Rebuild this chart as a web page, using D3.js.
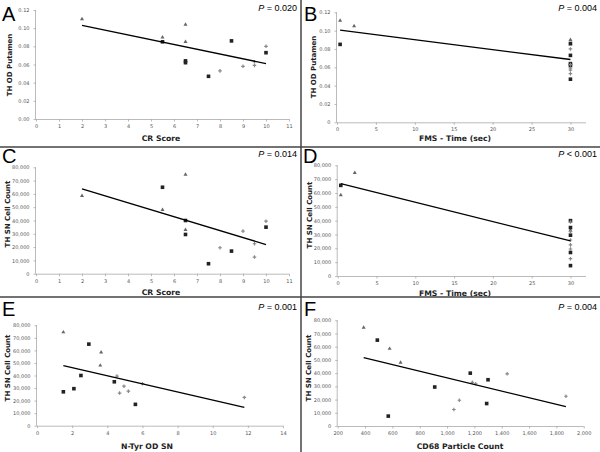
<!DOCTYPE html>
<html>
<head>
<meta charset="utf-8">
<script src="https://cdn.jsdelivr.net/npm/d3@7"></script>
<style>
  body { margin: 0; background: #fff; }
  svg { display: block; }
</style>
</head>
<body>
<svg width="600" height="452"></svg>
<script>
// marker groups: t = triangle, s = square, x = star
// Panel A: CR score vs TH OD putamen
const crA = [2, 5.5, 6.5, 6.5, 5.5, 6.5, 6.5, 7.5, 8.5, 10, 8, 9, 9.5, 9.5, 10];
const odA = [0.110, 0.090, 0.104, 0.085, 0.085, 0.064, 0.062, 0.047, 0.086, 0.073, 0.053, 0.058, 0.063, 0.059, 0.080];
const grpA = ["t", "t", "t", "t", "s", "s", "s", "s", "s", "s", "x", "x", "x", "x", "x"];
const trendA = [[2, 0.103], [10, 0.061]];

// Panel B: FMS time vs TH OD putamen
const fmsB = [0.4, 2.2, 0.4, 30, 30, 30, 30, 30, 30, 30, 30, 30, 30, 30, 30];
const odB = [0.111, 0.105, 0.085, 0.090, 0.085, 0.086, 0.073, 0.064, 0.062, 0.047, 0.080, 0.063, 0.059, 0.057, 0.053];
const grpB = ["t", "t", "s", "t", "t", "s", "s", "s", "s", "s", "x", "x", "x", "x", "x"];
const trendB = [[0.4, 0.1005], [30, 0.0685]];

// Panel C: CR score vs TH SN cell count
const crC = [2, 5.5, 6.5, 6.5, 5.5, 6.5, 6.5, 7.5, 8.5, 10, 8, 9, 9.5, 9.5, 10];
const cellC = [58500, 48000, 74500, 33000, 65000, 40000, 29500, 7500, 17000, 35000, 19500, 32000, 22500, 12500, 39500];
const grpC = ["t", "t", "t", "t", "s", "s", "s", "s", "s", "s", "x", "x", "x", "x", "x"];
const trendC = [[2, 63800], [10, 21900]];

// Panel D: FMS time vs TH SN cell count
const fmsD = [0.4, 2.2, 0.4, 30, 30, 30, 30, 30, 30, 30, 30, 30, 30, 30, 30];
const cellD = [58500, 74500, 65500, 33000, 40000, 35000, 29500, 17000, 7500, 39000, 32000, 26000, 22500, 19500, 12500];
const grpD = ["t", "t", "s", "t", "s", "s", "s", "s", "s", "x", "x", "x", "x", "x", "x"];
const trendD = [[0.4, 66800], [30, 25300]];

// Panel E: N-Tyr OD SN vs TH SN cell count
const ntyrE = [1.5, 3.65, 3.6, 1.5, 2.1, 2.5, 2.95, 4.4, 5.6, 4.55, 4.95, 4.7, 5.2, 6.0, 11.8];
const cellE = [74500, 58500, 48000, 27000, 29500, 40000, 65000, 35000, 17000, 39500, 31500, 26000, 27500, 33500, 22500];
const grpE = ["t", "t", "t", "s", "s", "s", "s", "s", "s", "x", "x", "x", "x", "x", "x"];
const trendE = [[1.5, 47800], [11.8, 14600]];

// Panel F: CD68 particle count vs TH SN cell count
const cd68F = [390, 580, 660, 490, 570, 910, 1170, 1290, 1300, 1185, 1210, 1440, 1090, 1050, 1870];
const cellF = [74500, 58500, 48000, 65000, 7500, 29500, 40000, 17000, 35000, 33000, 32000, 39500, 19500, 12500, 22500];
const grpF = ["t", "t", "t", "s", "s", "s", "s", "s", "s", "x", "x", "x", "x", "x", "x"];
const trendF = [[390, 51800], [1870, 14600]];

// axis ticks and labels
const crTicks = d3.range(0, 12);
const fmsTicks = [0, 5, 10, 15, 20, 25, 30];
const odTicks = [0, 0.02, 0.04, 0.06, 0.08, 0.10, 0.12];
const cellTicks = d3.range(0, 80001, 10000);
const ntyrTicks = d3.range(0, 15, 2);
const cd68Ticks = d3.range(200, 2001, 200);
const pValues = ["= 0.020", "= 0.004", "= 0.014", "< 0.001", "= 0.001", "= 0.004"];

const svg = d3.select("svg");

const panels = [
  { letter: "A", xs: crA, ys: odA, g: grpA, trend: trendA, xd: [0, 11], yd: [0, 0.12], xr: [36, 289], yr: [119, 10],
    xt: crTicks, yt: odTicks, yf: d3.format(".2f"), xTitle: "CR Score", yTitle: "TH OD Putamen",
    lx: 2, ly: 20.5, py: 11, txy: [161, 140.5], tyx: 12, tyy: 65 },
  { letter: "B", xs: fmsB, ys: odB, g: grpB, trend: trendB, xd: [0, 32], yd: [0, 0.12], xr: [337, 586], yr: [122.3, 12.3],
    xt: fmsTicks, yt: odTicks, yf: d => d === 0 ? "0" : d3.format(".2f")(d), xTitle: "FMS - Time (sec)", yTitle: "TH OD Putamen",
    lx: 304, ly: 20.5, py: 11, txy: [455, 140.5], tyx: 316, tyy: 67 },
  { letter: "C", xs: crC, ys: cellC, g: grpC, trend: trendC, xd: [0, 11], yd: [0, 80000], xr: [36, 289], yr: [273.7, 167.3],
    xt: crTicks, yt: cellTicks, yf: d3.format(","), xTitle: "CR Score", yTitle: "TH SN Cell Count",
    lx: 2, ly: 163, py: 157, txy: [161, 295], tyx: 9.5, tyy: 214 },
  { letter: "D", xs: fmsD, ys: cellD, g: grpD, trend: trendD, xd: [0, 32], yd: [0, 80000], xr: [337.7, 586], yr: [276, 165.3],
    xt: fmsTicks, yt: cellTicks, yf: d3.format(","), xTitle: "FMS - Time (sec)", yTitle: "TH SN Cell Count",
    lx: 303, ly: 163, py: 157, txy: [455, 295.5], tyx: 312, tyy: 215 },
  { letter: "E", xs: ntyrE, ys: cellE, g: grpE, trend: trendE, xd: [0, 14], yd: [0, 80000], xr: [37, 283], yr: [425.7, 325.3],
    xt: ntyrTicks, yt: cellTicks, yf: d3.format(","), xTitle: "N-Tyr OD SN", yTitle: "TH SN Cell Count",
    lx: 2, ly: 316, py: 310, txy: [147, 448.5], tyx: 9.5, tyy: 368 },
  { letter: "F", xs: cd68F, ys: cellF, g: grpF, trend: trendF, xd: [200, 2000], yd: [0, 80000], xr: [337.7, 583.7], yr: [426, 320.3],
    xt: cd68Ticks, yt: cellTicks, yf: d3.format(","), xTitle: "CD68 Particle Count", yTitle: "TH SN Cell Count",
    lx: 304, ly: 316, py: 310, txy: [460, 448.5], tyx: 311, tyy: 368 }
];

const symbolOf = {
  t: d3.symbol().type(d3.symbolTriangle).size(7),
  s: d3.symbol().type(d3.symbolSquare).size(13),
  x: d3.symbol().type(d3.symbolCross).size(7)
};
const fillOf = { t: "#666", s: "#222", x: "#888" };

panels.forEach((p, i) => {
  const x = d3.scaleLinear().domain(p.xd).range(p.xr);
  const y = d3.scaleLinear().domain(p.yd).range(p.yr);
  const g = svg.append("g");

  // axes
  const xAxis = g.append("g")
    .attr("transform", "translate(0," + p.yr[0] + ")")
    .call(d3.axisBottom(x).tickValues(p.xt).tickSize(2.5).tickPadding(3).tickFormat(d3.format(",")));
  const yAxis = g.append("g")
    .attr("transform", "translate(" + p.xr[0] + ",0)")
    .call(d3.axisLeft(y).tickValues(p.yt).tickSize(2.5).tickPadding(4).tickFormat(p.yf));
  [xAxis, yAxis].forEach(a => {
    a.select(".domain").attr("stroke", "#aaa").attr("stroke-width", 0.8);
    a.selectAll(".tick line").attr("stroke", "#aaa").attr("stroke-width", 0.8);
    a.selectAll("text").attr("font-family", "DejaVu Sans").attr("font-size", 5).attr("fill", "#555");
  });
  // axisLeft draws the outer ticks too; keep just the line
  xAxis.select(".domain").attr("d", "M" + p.xr[0] + ",0.5H" + p.xr[1]);
  yAxis.select(".domain").attr("d", "M-0.5," + p.yr[0] + "V" + p.yr[1]);

  // points
  g.selectAll(".pt")
    .data(p.xs.map((v, j) => ({ x: v, y: p.ys[j], g: p.g[j] })))
    .enter()
    .append("path")
    .attr("class", "pt")
    .attr("d", d => symbolOf[d.g]())
    .attr("fill", d => fillOf[d.g])
    .attr("transform", d => "translate(" + x(d.x) + "," + y(d.y) + ")");

  // trend line
  g.append("path")
    .attr("d", d3.line().x(d => x(d[0])).y(d => y(d[1]))(p.trend))
    .attr("fill", "none")
    .attr("stroke", "#000")
    .attr("stroke-width", 1.3);

  // titles
  g.append("text")
    .attr("x", p.txy[0]).attr("y", p.txy[1])
    .attr("text-anchor", "middle")
    .attr("font-family", "DejaVu Sans").attr("font-weight", "bold").attr("font-size", 7.7)
    .attr("fill", "#222")
    .text(p.xTitle);
  g.append("text")
    .attr("transform", "translate(" + p.tyx + "," + p.tyy + ") rotate(-90)")
    .attr("text-anchor", "middle")
    .attr("font-family", "DejaVu Sans").attr("font-weight", "bold").attr("font-size", 7)
    .attr("fill", "#222")
    .text(p.yTitle);

  // panel letter and P value
  g.append("text")
    .attr("x", p.lx).attr("y", p.ly)
    .attr("font-family", "Liberation Sans").attr("font-size", 20)
    .text(p.letter);
  const pt = g.append("text")
    .attr("x", i % 2 === 0 ? 297 : 597).attr("y", p.py)
    .attr("text-anchor", "end")
    .attr("font-family", "Liberation Sans").attr("font-size", 9);
  pt.append("tspan").attr("font-style", "italic").text("P");
  pt.append("tspan").text(" " + pValues[i]);
});

// panel dividers
const divider = { stroke: "#444", width: 1.5 };
[[0, 147, 600, 147], [0, 297, 600, 297], [301, 0, 301, 452]].forEach(l => {
  svg.append("line")
    .attr("x1", l[0]).attr("y1", l[1]).attr("x2", l[2]).attr("y2", l[3])
    .attr("stroke", divider.stroke).attr("stroke-width", divider.width);
});
</script>
</body>
</html>
